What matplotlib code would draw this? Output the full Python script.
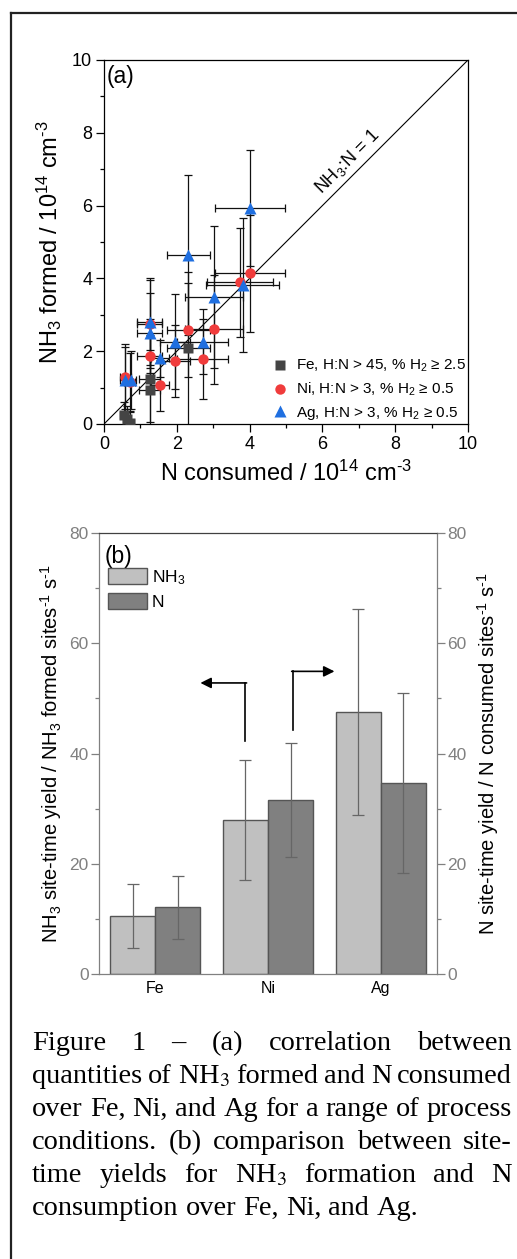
import numpy as np
import matplotlib
matplotlib.use("Agg")
import matplotlib.pyplot as plt
from matplotlib.lines import Line2D
from matplotlib.ticker import MultipleLocator

plt.rcParams['font.family'] = ['Liberation Sans', 'DejaVu Sans']
plt.rcParams['mathtext.fontset'] = 'custom'
plt.rcParams['mathtext.rm'] = 'Liberation Sans'
plt.rcParams['mathtext.it'] = 'Liberation Sans:italic'
plt.rcParams['mathtext.bf'] = 'Liberation Sans:bold'
plt.rcParams['mathtext.sf'] = 'Liberation Sans'

# (a) NH3 formed vs N consumed, units of 1e14 cm^-3
fe_x = [2.32, 1.25, 1.25, 0.55, 0.62, 0.72]
fe_y = [2.08, 1.25, 0.93, 0.25, 0.15, 0.02]
fe_xerr = [0.60, 0.30, 0.30, 0.10, 0.10, 0.10]
fe_yerr = [2.10, 1.20, 1.10, 0.35, 0.35, 0.30]

ni_x = [4.01, 3.74, 3.03, 2.32, 2.71, 1.95, 1.25, 1.25, 1.54, 0.58, 0.71]
ni_y = [4.14, 3.89, 2.60, 2.58, 1.79, 1.73, 2.75, 1.88, 1.07, 1.30, 1.16]
ni_xerr = [0.96, 0.90, 0.80, 0.60, 0.70, 0.40, 0.35, 0.35, 0.25, 0.15, 0.15]
ni_yerr = [1.60, 1.50, 1.50, 1.30, 1.10, 1.00, 1.20, 1.00, 0.70, 0.90, 0.80]

ag_x = [4.01, 3.81, 3.03, 2.32, 2.71, 1.95, 1.54, 1.25, 1.25, 0.58, 0.73]
ag_y = [5.93, 3.82, 3.50, 4.64, 2.26, 2.26, 1.80, 2.81, 2.49, 1.21, 1.20]
ag_xerr = [0.96, 1.00, 0.80, 0.58, 0.70, 0.40, 0.25, 0.35, 0.35, 0.15, 0.15]
ag_yerr = [1.60, 1.85, 1.95, 2.20, 0.90, 1.30, 0.50, 1.20, 1.10, 0.90, 0.80]

# (b) site-time yields
metals = ['Fe', 'Ni', 'Ag']
sty_nh3 = [10.5, 27.9, 47.5]
sty_nh3_err = [5.8, 10.9, 18.7]
sty_n = [12.1, 31.6, 34.7]
sty_n_err = [5.7, 10.3, 16.3]

caption = [
    "Figure 1 – (a) correlation between",
    "quantities of NH$_3$ formed and N consumed",
    "over Fe, Ni, and Ag for a range of process",
    "conditions. (b) comparison between site-",
    "time yields for NH$_3$ formation and N",
    "consumption over Fe, Ni, and Ag.",
]

W, H = 517, 1259
fig = plt.figure(figsize=(W / 100, H / 100), dpi=100)

# frame around the figure block
fig.add_artist(Line2D([11 / W, 11 / W], [0, 1 - 13 / H], transform=fig.transFigure,
                      color='#222222', lw=1.6))
fig.add_artist(Line2D([11 / W, 1], [1 - 13 / H, 1 - 13 / H], transform=fig.transFigure,
                      color='#222222', lw=1.6))

# ---------------- panel (a) ----------------
ax = fig.add_axes([104 / W, 1 - 424 / H, 364 / W, 364 / H])
ax.plot([0, 10], [0, 10], color='black', lw=0.8, zorder=1)

groups = [
    (fe_x, fe_y, fe_xerr, fe_yerr, 's', '#444444', 6.5, 'Fe, H:N > 45, % H$_2$ ≥ 2.5'),
    (ni_x, ni_y, ni_xerr, ni_yerr, 'o', '#f03c3c', 7.5, 'Ni, H:N > 3, % H$_2$ ≥ 0.5'),
    (ag_x, ag_y, ag_xerr, ag_yerr, '^', '#1f6fe0', 8.0, 'Ag, H:N > 3, % H$_2$ ≥ 0.5'),
]
for gx, gy, gxe, gye, m, c, ms, lab in groups:
    ax.errorbar(gx, gy, xerr=gxe, yerr=gye, fmt='none', ecolor='#111111',
                elinewidth=0.9, capsize=3, capthick=0.9, zorder=2)
handles = []
for gx, gy, gxe, gye, m, c, ms, lab in groups:
    h, = ax.plot(gx, gy, ls='none', marker=m, ms=ms, color=c, mec='none',
                 zorder=3, label=lab)
    handles.append(h)

ax.set_xlim(0, 10)
ax.set_ylim(0, 10)
ax.xaxis.set_major_locator(MultipleLocator(2))
ax.xaxis.set_minor_locator(MultipleLocator(1))
ax.yaxis.set_major_locator(MultipleLocator(2))
ax.yaxis.set_minor_locator(MultipleLocator(1))
ax.tick_params(which='major', direction='out', length=5.5, width=0.9,
               labelsize=13, pad=3)
ax.tick_params(which='minor', direction='out', length=3, width=0.9)
for s in ax.spines.values():
    s.set_linewidth(0.9)
ax.set_xlabel(r'N consumed / 10$^{14}$ cm$^{\text{-}3}$', fontsize=17, labelpad=6)
ax.set_ylabel(r'NH$_3$ formed / 10$^{14}$ cm$^{\text{-}3}$', fontsize=17, labelpad=6)
ax.text(0.008, 0.985, '(a)', transform=ax.transAxes, fontsize=16.5,
        ha='left', va='top')
ax.text(6.68, 7.2, 'NH$_3$:N = 1', fontsize=13, rotation=45,
        ha='center', va='center', rotation_mode='anchor')
ax.legend(handles=handles, loc='lower right', frameon=False, fontsize=11,
          handletextpad=0.4, labelspacing=0.42, borderaxespad=0.0,
          borderpad=0.15, handlelength=1.2)

# ---------------- panel (b) ----------------
grey = '#808080'
bx = fig.add_axes([99 / W, 1 - 974 / H, 338 / W, 441 / H])
pos = np.arange(len(metals))
wd = 0.4
err_kw = dict(ecolor='#666666', elinewidth=0.9, capsize=4.3, capthick=0.9)
bx.bar(pos - wd / 2, sty_nh3, wd, yerr=sty_nh3_err, color='#c0c0c0',
       edgecolor='#555555', lw=1, error_kw=err_kw, label='NH$_3$')
bx.bar(pos + wd / 2, sty_n, wd, yerr=sty_n_err, color='#808080',
       edgecolor='#555555', lw=1, error_kw=err_kw, label='N')
bx.set_xlim(-0.5, 2.5)
bx.set_ylim(0, 80)
bx.set_xticks(pos)
bx.set_xticklabels(metals, fontsize=11.5)
bx.tick_params(axis='x', length=0, pad=5)
bx.yaxis.set_major_locator(MultipleLocator(20))
bx.yaxis.set_minor_locator(MultipleLocator(10))
bx.tick_params(axis='y', which='major', direction='out', length=5.5, width=0.9,
               colors=grey, labelsize=12.5, pad=2)
bx.tick_params(axis='y', which='minor', direction='out', length=3, width=0.9,
               colors=grey)
for side in ['left', 'right', 'bottom']:
    bx.spines[side].set_color(grey)
bx.spines['top'].set_color('#404040')
for s in bx.spines.values():
    s.set_linewidth(0.9)
bx.set_ylabel(r'NH$_3$ site-time yield / NH$_3$ formed sites$^{\text{-}1}$ s$^{\text{-}1}$',
              fontsize=14.5, labelpad=4)
bx.text(0.018, 0.972, '(b)', transform=bx.transAxes, fontsize=16.5,
        ha='left', va='top')
bx.legend(loc='upper left', bbox_to_anchor=(0.026, 0.92), frameon=False,
          fontsize=12.5, handlelength=2.25, handleheight=1.05,
          handletextpad=0.3, labelspacing=0.35, borderpad=0, borderaxespad=0)

bx2 = bx.twinx()
bx2.set_ylim(0, 80)
bx2.yaxis.set_major_locator(MultipleLocator(20))
bx2.yaxis.set_minor_locator(MultipleLocator(10))
bx2.tick_params(axis='y', which='major', direction='out', length=5.5, width=0.9,
                colors=grey, labelsize=12.5, pad=2)
bx2.tick_params(axis='y', which='minor', direction='out', length=3, width=0.9,
                colors=grey)
for side in ['left', 'right', 'bottom', 'top']:
    bx2.spines[side].set_visible(False)
bx2.set_ylabel(r'N site-time yield / N consumed sites$^{\text{-}1}$ s$^{\text{-}1}$',
               fontsize=14.5, labelpad=6)

# arrows pointing to the axis each series is read against
bx.plot([0.80, 0.80], [42.2, 52.8], color='black', lw=1.2)
bx.annotate('', xy=(0.40, 52.8), xytext=(0.81, 52.8),
            arrowprops=dict(arrowstyle='-|>', color='black', lw=1.2,
                            mutation_scale=16, shrinkA=0, shrinkB=0))
bx.plot([1.22, 1.22], [44.3, 54.9], color='black', lw=1.2)
bx.annotate('', xy=(1.59, 54.9), xytext=(1.21, 54.9),
            arrowprops=dict(arrowstyle='-|>', color='black', lw=1.2,
                            mutation_scale=16, shrinkA=0, shrinkB=0))

# ---------------- caption (justified) ----------------
renderer = fig.canvas.get_renderer()
left_px, right_px = 32, 512
first_base, step = 1050, 33
cap_size = 20.4
for i, line in enumerate(caption):
    yb = 1 - (first_base + i * step) / H
    words = line.split(' ')
    texts = [fig.text(0, yb, w, fontsize=cap_size, family='Liberation Serif',
                      math_fontfamily='stix', va='baseline', ha='left')
             for w in words]
    widths = [t.get_window_extent(renderer).width for t in texts]
    if i == len(caption) - 1:
        gap = 0.25 * cap_size * 100 / 72
    else:
        gap = (right_px - left_px - sum(widths)) / (len(words) - 1)
    x = left_px
    for t, w in zip(texts, widths):
        t.set_x(x / W)
        x += w + gap

fig.savefig('out.png', dpi=100)
